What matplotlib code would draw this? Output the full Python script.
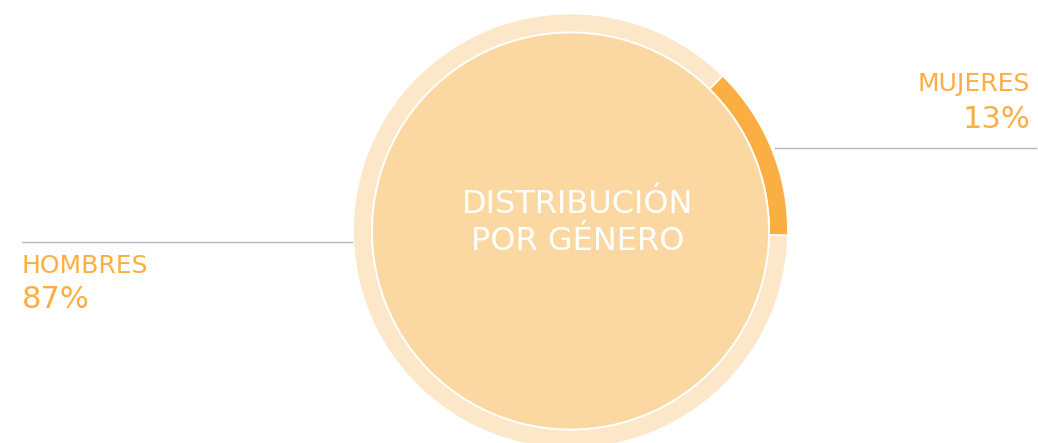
import matplotlib.pyplot as plt
from matplotlib.patches import Circle

# data
labels = ['MUJERES', 'HOMBRES']
values = [13, 87]
title_lines = ['DISTRIBUCIÓN', 'POR GÉNERO']

# colours
c_light = '#fde7c9'
c_inner = '#fbd7a1'
c_orange = '#fbae42'
c_line = '#b8b8b8'

W, H = 1038, 443
fig = plt.figure(figsize=(W / 100, H / 100), dpi=100)
ax = fig.add_axes([0, 0, 1, 1])

# centre / radii in pixel units (y up)
cx, cy = 570.5, H - 231
r_out, r_in = 217.5, 198.5

ax.pie(values, radius=r_out, center=(cx, cy), startangle=-1.2, counterclock=True,
       colors=[c_orange, c_light],
       wedgeprops=dict(width=r_out - r_in, edgecolor='white', linewidth=1.3))
ax.add_patch(Circle((cx, cy), r_in, facecolor=c_inner, edgecolor='white', linewidth=1.3, zorder=3))

ax.set_xlim(0, W)
ax.set_ylim(0, H)
ax.set_aspect('equal')
ax.axis('off')

font = 'DejaVu Sans'

# centre title
ax.text(578, H - 213.3, title_lines[0], color='white', fontsize=23, family=font,
        ha='center', va='baseline', zorder=4)
ax.text(578, H - 250, title_lines[1], color='white', fontsize=23, family=font,
        ha='center', va='baseline', zorder=4)

# MUJERES label (right)
ax.plot([775, 1036], [H - 148, H - 148], color=c_line, lw=1.0)
ax.text(1030, H - 91, labels[0], color=c_orange, fontsize=18, family=font,
        ha='right', va='baseline')
ax.text(1030, H - 128.3, f'{values[0]}%', color=c_orange, fontsize=22, family=font,
        ha='right', va='baseline')

# HOMBRES label (left)
ax.plot([22, 352], [H - 241.5, H - 241.5], color=c_line, lw=1.0)
ax.text(22, H - 273.3, labels[1], color=c_orange, fontsize=18, family=font,
        ha='left', va='baseline')
ax.text(22, H - 307.5, f'{values[1]}%', color=c_orange, fontsize=22, family=font,
        ha='left', va='baseline')

plt.savefig('out.png', dpi=100)
